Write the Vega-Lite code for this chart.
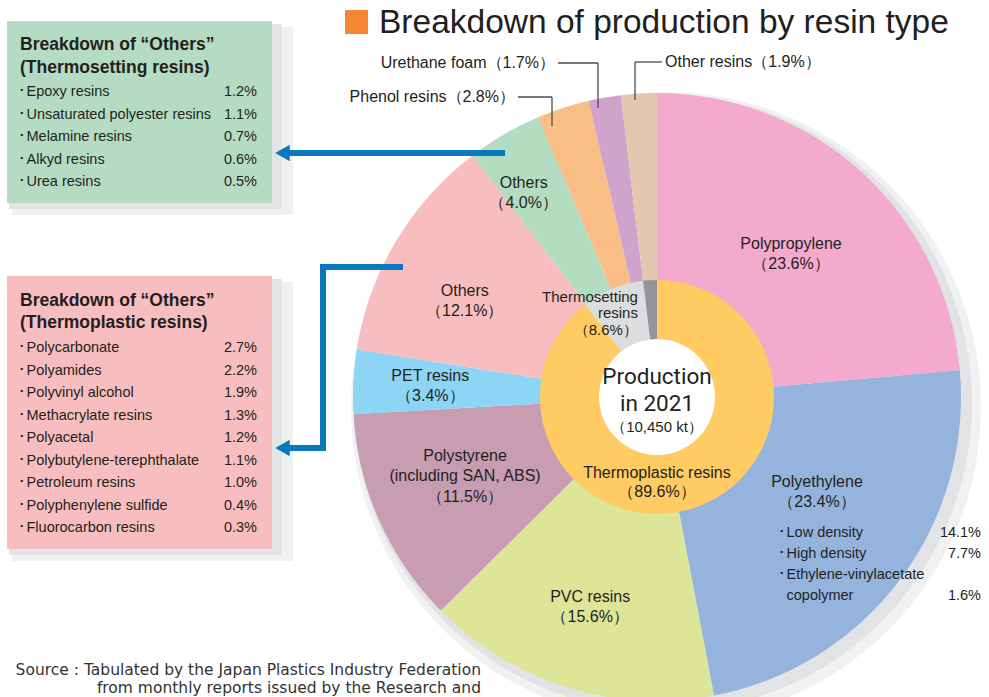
{
  "$schema": "https://vega.github.io/schema/vega-lite/v6.json",
  "width": 989,
  "height": 697,
  "autosize": {"type": "none"},
  "padding": 0,
  "background": "#ffffff",
  "config": {
    "view": {"stroke": null},
    "axis": {"disable": true},
    "legend": {"disable": true},
    "text": {"font": "Liberation Sans, Arial, sans-serif", "fontSize": 16, "color": "#231f20", "lineHeight": 20}
  },
  "datasets": {
    "outer": [
      {"id": "Polypropylene", "pct": 23.6, "ord": 1, "label": ["Polypropylene", "（23.6%）"]},
      {"id": "Polyethylene", "pct": 23.4, "ord": 2, "label": ["Polyethylene", "（23.4%）"]},
      {"id": "PVC resins", "pct": 15.6, "ord": 3, "label": ["PVC resins", "（15.6%）"]},
      {"id": "Polystyrene", "pct": 11.5, "ord": 4, "label": ["Polystyrene", "(including SAN, ABS)", "（11.5%）"]},
      {"id": "PET resins", "pct": 3.4, "ord": 5, "label": ["PET resins", "（3.4%）"]},
      {"id": "Others (thermoplastic)", "pct": 12.1, "ord": 6, "label": ["Others", "（12.1%）"]},
      {"id": "Others (thermosetting)", "pct": 4.0, "ord": 7, "label": ["Others", "（4.0%）"]},
      {"id": "Phenol resins", "pct": 2.8, "ord": 8, "label": ["Phenol resins（2.8%）"]},
      {"id": "Urethane foam", "pct": 1.7, "ord": 9, "label": ["Urethane foam（1.7%）"]},
      {"id": "Other resins", "pct": 1.9, "ord": 10, "label": ["Other resins（1.9%）"]}
    ],
    "inner": [
      {"id": "Thermoplastic resins", "pct": 89.6, "ord": 1, "label": ["Thermoplastic resins", "（89.6%）"]},
      {"id": "Thermosetting resins", "pct": 8.6, "ord": 2, "label": ["Thermosetting", "resins", "（8.6%）"]},
      {"id": "Other resins", "pct": 1.9, "ord": 3, "label": [""]}
    ],
    "thermosetting_others": [
      {"name": "Epoxy resins", "share": 0.012},
      {"name": "Unsaturated polyester resins", "share": 0.011},
      {"name": "Melamine resins", "share": 0.007},
      {"name": "Alkyd resins", "share": 0.006},
      {"name": "Urea resins", "share": 0.005}
    ],
    "thermoplastic_others": [
      {"name": "Polycarbonate", "share": 0.027},
      {"name": "Polyamides", "share": 0.022},
      {"name": "Polyvinyl alcohol", "share": 0.019},
      {"name": "Methacrylate resins", "share": 0.013},
      {"name": "Polyacetal", "share": 0.012},
      {"name": "Polybutylene-terephthalate", "share": 0.011},
      {"name": "Petroleum resins", "share": 0.010},
      {"name": "Polyphenylene sulfide", "share": 0.004},
      {"name": "Fluorocarbon resins", "share": 0.003}
    ],
    "polyethylene": [
      {"line": "Low density", "share": 0.141},
      {"line": "High density", "share": 0.077},
      {"line": "Ethylene-vinylacetate", "share": null},
      {"line": "copolymer", "share": 0.016}
    ]
  },
  "data": {"values": [{}]},
  "layer": [
    {
      "resolve": {"scale": {"theta": "independent", "color": "independent"}},
      "layer": [
        {"mark": {"type": "rect", "color": "#f0f0f1"}, "encoding": {"x": {"datum": 12, "type": "quantitative", "scale": {"domain": [0, 989], "nice": false, "zero": false}}, "x2": {"datum": 293}, "y": {"datum": 27, "type": "quantitative", "scale": {"domain": [0, 697], "nice": false, "zero": false, "reverse": true}}, "y2": {"datum": 215}}},
        {"mark": {"type": "rect", "color": "#e3e4e5"}, "encoding": {"x": {"datum": 9, "type": "quantitative", "scale": {"domain": [0, 989], "nice": false, "zero": false}}, "x2": {"datum": 282}, "y": {"datum": 24, "type": "quantitative", "scale": {"domain": [0, 697], "nice": false, "zero": false, "reverse": true}}, "y2": {"datum": 209}}},
        {"mark": {"type": "rect", "color": "#b5dcc2"}, "encoding": {"x": {"datum": 7, "type": "quantitative", "scale": {"domain": [0, 989], "nice": false, "zero": false}}, "x2": {"datum": 272}, "y": {"datum": 21, "type": "quantitative", "scale": {"domain": [0, 697], "nice": false, "zero": false, "reverse": true}}, "y2": {"datum": 203}}},
        {"mark": {"type": "rect", "color": "#f0f0f1"}, "encoding": {"x": {"datum": 12, "type": "quantitative", "scale": {"domain": [0, 989], "nice": false, "zero": false}}, "x2": {"datum": 293}, "y": {"datum": 282, "type": "quantitative", "scale": {"domain": [0, 697], "nice": false, "zero": false, "reverse": true}}, "y2": {"datum": 561}}},
        {"mark": {"type": "rect", "color": "#e3e4e5"}, "encoding": {"x": {"datum": 9, "type": "quantitative", "scale": {"domain": [0, 989], "nice": false, "zero": false}}, "x2": {"datum": 282}, "y": {"datum": 279, "type": "quantitative", "scale": {"domain": [0, 697], "nice": false, "zero": false, "reverse": true}}, "y2": {"datum": 555}}},
        {"mark": {"type": "rect", "color": "#f8bdbe"}, "encoding": {"x": {"datum": 7, "type": "quantitative", "scale": {"domain": [0, 989], "nice": false, "zero": false}}, "x2": {"datum": 272}, "y": {"datum": 276, "type": "quantitative", "scale": {"domain": [0, 697], "nice": false, "zero": false, "reverse": true}}, "y2": {"datum": 549}}},
        {"mark": {"type": "arc", "outerRadius": 315, "innerRadius": 240, "theta": 0, "theta2": 6.2832, "color": "#f1f1f2"}, "encoding": {"x": {"datum": 666, "type": "quantitative", "scale": {"domain": [0, 989], "nice": false, "zero": false}}, "y": {"datum": 407, "type": "quantitative", "scale": {"domain": [0, 697], "nice": false, "zero": false, "reverse": true}}}},
        {"mark": {"type": "arc", "outerRadius": 309, "innerRadius": 240, "theta": 0, "theta2": 6.2832, "color": "#e2e3e4"}, "encoding": {"x": {"datum": 663, "type": "quantitative", "scale": {"domain": [0, 989], "nice": false, "zero": false}}, "y": {"datum": 403, "type": "quantitative", "scale": {"domain": [0, 697], "nice": false, "zero": false, "reverse": true}}}},
        {
          "data": {"name": "outer"},
          "mark": {"type": "arc", "outerRadius": 304, "innerRadius": 110},
          "encoding": {
            "x": {"datum": 657, "type": "quantitative", "scale": {"domain": [0, 989], "nice": false, "zero": false}},
            "y": {"datum": 397, "type": "quantitative", "scale": {"domain": [0, 697], "nice": false, "zero": false, "reverse": true}},
            "theta": {"field": "pct", "type": "quantitative", "stack": true},
            "order": {"field": "ord", "type": "quantitative"},
            "color": {"field": "id", "type": "nominal", "scale": {
              "domain": ["Polypropylene", "Polyethylene", "PVC resins", "Polystyrene", "PET resins", "Others (thermoplastic)", "Others (thermosetting)", "Phenol resins", "Urethane foam", "Other resins"],
              "range": ["#f3aacd", "#94b4de", "#dde599", "#c89db2", "#8dd5f5", "#f8bdbf", "#b4dcc1", "#f9bd86", "#cfa3cc", "#e3c7ae"]}}
          }
        },
        {
          "data": {"name": "inner"},
          "mark": {"type": "arc", "outerRadius": 117, "innerRadius": 58},
          "encoding": {
            "x": {"datum": 657, "type": "quantitative", "scale": {"domain": [0, 989], "nice": false, "zero": false}},
            "y": {"datum": 397, "type": "quantitative", "scale": {"domain": [0, 697], "nice": false, "zero": false, "reverse": true}},
            "theta": {"field": "pct", "type": "quantitative", "stack": true},
            "order": {"field": "ord", "type": "quantitative"},
            "color": {"field": "id", "type": "nominal", "scale": {
              "domain": ["Thermoplastic resins", "Thermosetting resins", "Other resins"],
              "range": ["#ffcb62", "#dcdddf", "#939598"]}}
          }
        },
        {"mark": {"type": "rect", "color": "#f58634"}, "encoding": {"x": {"datum": 345, "type": "quantitative", "scale": {"domain": [0, 989], "nice": false, "zero": false}}, "x2": {"datum": 368}, "y": {"datum": 10, "type": "quantitative", "scale": {"domain": [0, 697], "nice": false, "zero": false, "reverse": true}}, "y2": {"datum": 34}}},
        {"mark": {"type": "text", "fontSize": 33.5, "align": "left", "baseline": "middle", "color": "#231f20"}, "encoding": {"x": {"datum": 379, "type": "quantitative", "scale": {"domain": [0, 989], "nice": false, "zero": false}}, "y": {"datum": 23, "type": "quantitative", "scale": {"domain": [0, 697], "nice": false, "zero": false, "reverse": true}}, "text": {"value": "Breakdown of production by resin type"}}},
        {"mark": {"type": "rule", "color": "#4d4d4d", "strokeWidth": 1.3}, "encoding": {"x": {"datum": 558, "type": "quantitative", "scale": {"domain": [0, 989], "nice": false, "zero": false}}, "x2": {"datum": 598}, "y": {"datum": 63, "type": "quantitative", "scale": {"domain": [0, 697], "nice": false, "zero": false, "reverse": true}}}},
        {"mark": {"type": "rule", "color": "#4d4d4d", "strokeWidth": 1.3}, "encoding": {"x": {"datum": 598, "type": "quantitative", "scale": {"domain": [0, 989], "nice": false, "zero": false}}, "y": {"datum": 63, "type": "quantitative", "scale": {"domain": [0, 697], "nice": false, "zero": false, "reverse": true}}, "y2": {"datum": 108}}},
        {"mark": {"type": "rule", "color": "#4d4d4d", "strokeWidth": 1.3}, "encoding": {"x": {"datum": 635, "type": "quantitative", "scale": {"domain": [0, 989], "nice": false, "zero": false}}, "x2": {"datum": 662}, "y": {"datum": 62, "type": "quantitative", "scale": {"domain": [0, 697], "nice": false, "zero": false, "reverse": true}}}},
        {"mark": {"type": "rule", "color": "#4d4d4d", "strokeWidth": 1.3}, "encoding": {"x": {"datum": 635, "type": "quantitative", "scale": {"domain": [0, 989], "nice": false, "zero": false}}, "y": {"datum": 62, "type": "quantitative", "scale": {"domain": [0, 697], "nice": false, "zero": false, "reverse": true}}, "y2": {"datum": 100}}},
        {"mark": {"type": "rule", "color": "#4d4d4d", "strokeWidth": 1.3}, "encoding": {"x": {"datum": 518, "type": "quantitative", "scale": {"domain": [0, 989], "nice": false, "zero": false}}, "x2": {"datum": 552}, "y": {"datum": 97, "type": "quantitative", "scale": {"domain": [0, 697], "nice": false, "zero": false, "reverse": true}}}},
        {"mark": {"type": "rule", "color": "#4d4d4d", "strokeWidth": 1.3}, "encoding": {"x": {"datum": 552, "type": "quantitative", "scale": {"domain": [0, 989], "nice": false, "zero": false}}, "y": {"datum": 97, "type": "quantitative", "scale": {"domain": [0, 697], "nice": false, "zero": false, "reverse": true}}, "y2": {"datum": 126}}},
        {"data": {"name": "outer"}, "transform": [{"filter": "datum.id === 'Urethane foam'"}], "mark": {"type": "text", "align": "right", "baseline": "middle"}, "encoding": {"x": {"datum": 555, "type": "quantitative", "scale": {"domain": [0, 989], "nice": false, "zero": false}}, "y": {"datum": 63, "type": "quantitative", "scale": {"domain": [0, 697], "nice": false, "zero": false, "reverse": true}}, "text": {"field": "label", "type": "nominal"}}},
        {"data": {"name": "outer"}, "transform": [{"filter": "datum.id === 'Other resins'"}], "mark": {"type": "text", "align": "left", "baseline": "middle"}, "encoding": {"x": {"datum": 665, "type": "quantitative", "scale": {"domain": [0, 989], "nice": false, "zero": false}}, "y": {"datum": 62, "type": "quantitative", "scale": {"domain": [0, 697], "nice": false, "zero": false, "reverse": true}}, "text": {"field": "label", "type": "nominal"}}},
        {"data": {"name": "outer"}, "transform": [{"filter": "datum.id === 'Phenol resins'"}], "mark": {"type": "text", "align": "right", "baseline": "middle"}, "encoding": {"x": {"datum": 515, "type": "quantitative", "scale": {"domain": [0, 989], "nice": false, "zero": false}}, "y": {"datum": 97, "type": "quantitative", "scale": {"domain": [0, 697], "nice": false, "zero": false, "reverse": true}}, "text": {"field": "label", "type": "nominal"}}},
        {"mark": {"type": "rule", "color": "#0a78be", "strokeWidth": 6, "strokeCap": "square"}, "encoding": {"x": {"datum": 289, "type": "quantitative", "scale": {"domain": [0, 989], "nice": false, "zero": false}}, "x2": {"datum": 502}, "y": {"datum": 153, "type": "quantitative", "scale": {"domain": [0, 697], "nice": false, "zero": false, "reverse": true}}}},
        {"mark": {"type": "rule", "color": "#0a78be", "strokeWidth": 6, "strokeCap": "square"}, "encoding": {"x": {"datum": 323, "type": "quantitative", "scale": {"domain": [0, 989], "nice": false, "zero": false}}, "x2": {"datum": 400}, "y": {"datum": 267, "type": "quantitative", "scale": {"domain": [0, 697], "nice": false, "zero": false, "reverse": true}}}},
        {"mark": {"type": "rule", "color": "#0a78be", "strokeWidth": 6, "strokeCap": "square"}, "encoding": {"x": {"datum": 323, "type": "quantitative", "scale": {"domain": [0, 989], "nice": false, "zero": false}}, "y": {"datum": 267, "type": "quantitative", "scale": {"domain": [0, 697], "nice": false, "zero": false, "reverse": true}}, "y2": {"datum": 448}}},
        {"mark": {"type": "rule", "color": "#0a78be", "strokeWidth": 6, "strokeCap": "square"}, "encoding": {"x": {"datum": 289, "type": "quantitative", "scale": {"domain": [0, 989], "nice": false, "zero": false}}, "x2": {"datum": 323}, "y": {"datum": 448, "type": "quantitative", "scale": {"domain": [0, 697], "nice": false, "zero": false, "reverse": true}}}},
        {"mark": {"type": "point", "shape": "triangle-left", "size": 280, "filled": true, "opacity": 1, "color": "#0a78be"}, "encoding": {"x": {"datum": 282.5, "type": "quantitative", "scale": {"domain": [0, 989], "nice": false, "zero": false}}, "y": {"datum": 153, "type": "quantitative", "scale": {"domain": [0, 697], "nice": false, "zero": false, "reverse": true}}}},
        {"mark": {"type": "point", "shape": "triangle-left", "size": 280, "filled": true, "opacity": 1, "color": "#0a78be"}, "encoding": {"x": {"datum": 282.5, "type": "quantitative", "scale": {"domain": [0, 989], "nice": false, "zero": false}}, "y": {"datum": 448, "type": "quantitative", "scale": {"domain": [0, 697], "nice": false, "zero": false, "reverse": true}}}},
        {"data": {"name": "outer"}, "mark": {"type": "text", "radius": 196, "thetaOffset": 0.0115, "dy": -10, "align": "center", "baseline": "middle"}, "encoding": {"x": {"datum": 657, "type": "quantitative", "scale": {"domain": [0, 989], "nice": false, "zero": false}}, "y": {"datum": 397, "type": "quantitative", "scale": {"domain": [0, 697], "nice": false, "zero": false, "reverse": true}}, "theta": {"field": "pct", "type": "quantitative", "stack": true}, "order": {"field": "ord", "type": "quantitative"}, "text": {"condition": {"test": "datum.id === 'Polypropylene'", "field": "label", "type": "nominal"}, "value": ""}}},
        {"data": {"name": "outer"}, "mark": {"type": "text", "radius": 186, "thetaOffset": -0.112, "dy": -10, "align": "center", "baseline": "middle"}, "encoding": {"x": {"datum": 657, "type": "quantitative", "scale": {"domain": [0, 989], "nice": false, "zero": false}}, "y": {"datum": 397, "type": "quantitative", "scale": {"domain": [0, 697], "nice": false, "zero": false, "reverse": true}}, "theta": {"field": "pct", "type": "quantitative", "stack": true}, "order": {"field": "ord", "type": "quantitative"}, "text": {"condition": {"test": "datum.id === 'Polyethylene'", "field": "label", "type": "nominal"}, "value": ""}}},
        {"data": {"name": "outer"}, "mark": {"type": "text", "radius": 220, "thetaOffset": 0.007, "dy": -10, "align": "center", "baseline": "middle"}, "encoding": {"x": {"datum": 657, "type": "quantitative", "scale": {"domain": [0, 989], "nice": false, "zero": false}}, "y": {"datum": 397, "type": "quantitative", "scale": {"domain": [0, 697], "nice": false, "zero": false, "reverse": true}}, "theta": {"field": "pct", "type": "quantitative", "stack": true}, "order": {"field": "ord", "type": "quantitative"}, "text": {"condition": {"test": "datum.id === 'PVC resins'", "field": "label", "type": "nominal"}, "value": ""}}},
        {"data": {"name": "outer"}, "mark": {"type": "text", "radius": 207.6, "thetaOffset": 0.027, "dy": -20.5, "lineHeight": 20.5, "align": "center", "baseline": "middle"}, "encoding": {"x": {"datum": 657, "type": "quantitative", "scale": {"domain": [0, 989], "nice": false, "zero": false}}, "y": {"datum": 397, "type": "quantitative", "scale": {"domain": [0, 697], "nice": false, "zero": false, "reverse": true}}, "theta": {"field": "pct", "type": "quantitative", "stack": true}, "order": {"field": "ord", "type": "quantitative"}, "text": {"condition": {"test": "datum.id === 'Polystyrene'", "field": "label", "type": "nominal"}, "value": ""}}},
        {"data": {"name": "outer"}, "mark": {"type": "text", "radius": 227, "dy": -10, "align": "center", "baseline": "middle"}, "encoding": {"x": {"datum": 657, "type": "quantitative", "scale": {"domain": [0, 989], "nice": false, "zero": false}}, "y": {"datum": 397, "type": "quantitative", "scale": {"domain": [0, 697], "nice": false, "zero": false, "reverse": true}}, "theta": {"field": "pct", "type": "quantitative", "stack": true}, "order": {"field": "ord", "type": "quantitative"}, "text": {"condition": {"test": "datum.id === 'PET resins'", "field": "label", "type": "nominal"}, "value": ""}}},
        {"data": {"name": "outer"}, "mark": {"type": "text", "radius": 215, "thetaOffset": -0.073, "dy": -10, "align": "center", "baseline": "middle"}, "encoding": {"x": {"datum": 657, "type": "quantitative", "scale": {"domain": [0, 989], "nice": false, "zero": false}}, "y": {"datum": 397, "type": "quantitative", "scale": {"domain": [0, 697], "nice": false, "zero": false, "reverse": true}}, "theta": {"field": "pct", "type": "quantitative", "stack": true}, "order": {"field": "ord", "type": "quantitative"}, "text": {"condition": {"test": "datum.id === 'Others (thermoplastic)'", "field": "label", "type": "nominal"}, "value": ""}}},
        {"data": {"name": "outer"}, "mark": {"type": "text", "radius": 244, "thetaOffset": -0.05, "dy": -10, "align": "center", "baseline": "middle"}, "encoding": {"x": {"datum": 657, "type": "quantitative", "scale": {"domain": [0, 989], "nice": false, "zero": false}}, "y": {"datum": 397, "type": "quantitative", "scale": {"domain": [0, 697], "nice": false, "zero": false, "reverse": true}}, "theta": {"field": "pct", "type": "quantitative", "stack": true}, "order": {"field": "ord", "type": "quantitative"}, "text": {"condition": {"test": "datum.id === 'Others (thermosetting)'", "field": "label", "type": "nominal"}, "value": ""}}},
        {"data": {"name": "inner"}, "mark": {"type": "text", "radius": 85, "thetaOffset": 0.33, "dy": -9.5, "align": "center", "baseline": "middle", "lineHeight": 19}, "encoding": {"x": {"datum": 657, "type": "quantitative", "scale": {"domain": [0, 989], "nice": false, "zero": false}}, "y": {"datum": 397, "type": "quantitative", "scale": {"domain": [0, 697], "nice": false, "zero": false, "reverse": true}}, "theta": {"field": "pct", "type": "quantitative", "stack": true}, "order": {"field": "ord", "type": "quantitative"}, "text": {"condition": {"test": "datum.id === 'Thermoplastic resins'", "field": "label", "type": "nominal"}, "value": ""}}},
        {"data": {"name": "inner"}, "mark": {"type": "text", "radius": 86, "thetaOffset": 0.166, "dy": -16.5, "align": "right", "baseline": "middle", "fontSize": 15, "lineHeight": 16.5}, "encoding": {"x": {"datum": 657, "type": "quantitative", "scale": {"domain": [0, 989], "nice": false, "zero": false}}, "y": {"datum": 397, "type": "quantitative", "scale": {"domain": [0, 697], "nice": false, "zero": false, "reverse": true}}, "theta": {"field": "pct", "type": "quantitative", "stack": true}, "order": {"field": "ord", "type": "quantitative"}, "text": {"condition": {"test": "datum.id === 'Thermosetting resins'", "field": "label", "type": "nominal"}, "value": ""}}},
        {"mark": {"type": "text", "font": "Roboto, Liberation Sans, sans-serif", "fontSize": 22.5, "lineHeight": 27, "align": "center", "baseline": "middle"}, "encoding": {"x": {"datum": 657, "type": "quantitative", "scale": {"domain": [0, 989], "nice": false, "zero": false}}, "y": {"datum": 377, "type": "quantitative", "scale": {"domain": [0, 697], "nice": false, "zero": false, "reverse": true}}, "text": {"value": ["Production", "in 2021"]}}},
        {"mark": {"type": "text", "fontSize": 15, "align": "center", "baseline": "middle"}, "encoding": {"x": {"datum": 657, "type": "quantitative", "scale": {"domain": [0, 989], "nice": false, "zero": false}}, "y": {"datum": 427, "type": "quantitative", "scale": {"domain": [0, 697], "nice": false, "zero": false, "reverse": true}}, "text": {"value": "（10,450 kt）"}}},
        {"mark": {"type": "text", "fontSize": 17.5, "fontWeight": "bold", "align": "left", "baseline": "middle", "lineHeight": 23}, "encoding": {"x": {"datum": 20, "type": "quantitative", "scale": {"domain": [0, 989], "nice": false, "zero": false}}, "y": {"datum": 45, "type": "quantitative", "scale": {"domain": [0, 697], "nice": false, "zero": false, "reverse": true}}, "text": {"value": ["Breakdown of  “Others”", "(Thermosetting resins)"]}}},
        {"mark": {"type": "text", "fontSize": 17.5, "fontWeight": "bold", "align": "left", "baseline": "middle", "lineHeight": 22}, "encoding": {"x": {"datum": 20, "type": "quantitative", "scale": {"domain": [0, 989], "nice": false, "zero": false}}, "y": {"datum": 301, "type": "quantitative", "scale": {"domain": [0, 697], "nice": false, "zero": false, "reverse": true}}, "text": {"value": ["Breakdown of  “Others”", "(Thermoplastic resins)"]}}},
        {"mark": {"type": "text", "font": "DejaVu Sans, Liberation Sans, sans-serif", "fontSize": 15.5, "align": "right", "baseline": "middle", "lineHeight": 18, "color": "#333333"}, "encoding": {"x": {"datum": 481, "type": "quantitative", "scale": {"domain": [0, 989], "nice": false, "zero": false}}, "y": {"datum": 670, "type": "quantitative", "scale": {"domain": [0, 697], "nice": false, "zero": false, "reverse": true}}, "text": {"value": ["Source : Tabulated by the Japan Plastics Industry Federation", "from monthly reports issued by the Research and"]}}}
      ]
    },
    {
      "data": {"name": "thermosetting_others"},
      "encoding": {"y": {"field": "name", "type": "nominal", "sort": null, "scale": {"type": "point", "range": [92, 182], "padding": 0}}},
      "layer": [
        {"mark": {"type": "text", "fontSize": 14.5, "align": "left", "baseline": "middle"}, "encoding": {"x": {"datum": 18, "type": "quantitative", "scale": {"domain": [0, 989], "nice": false, "zero": false}}, "text": {"value": "･"}}},
        {"mark": {"type": "text", "fontSize": 14.5, "align": "left", "baseline": "middle"}, "encoding": {"x": {"datum": 26.5, "type": "quantitative", "scale": {"domain": [0, 989], "nice": false, "zero": false}}, "text": {"field": "name", "type": "nominal"}}},
        {"mark": {"type": "text", "fontSize": 14.5, "align": "right", "baseline": "middle"}, "encoding": {"x": {"datum": 257, "type": "quantitative", "scale": {"domain": [0, 989], "nice": false, "zero": false}}, "text": {"field": "share", "type": "quantitative", "format": ".1%"}}}
      ]
    },
    {
      "data": {"name": "thermoplastic_others"},
      "encoding": {"y": {"field": "name", "type": "nominal", "sort": null, "scale": {"type": "point", "range": [348, 528], "padding": 0}}},
      "layer": [
        {"mark": {"type": "text", "fontSize": 14.5, "align": "left", "baseline": "middle"}, "encoding": {"x": {"datum": 18, "type": "quantitative", "scale": {"domain": [0, 989], "nice": false, "zero": false}}, "text": {"value": "･"}}},
        {"mark": {"type": "text", "fontSize": 14.5, "align": "left", "baseline": "middle"}, "encoding": {"x": {"datum": 26.5, "type": "quantitative", "scale": {"domain": [0, 989], "nice": false, "zero": false}}, "text": {"field": "name", "type": "nominal"}}},
        {"mark": {"type": "text", "fontSize": 14.5, "align": "right", "baseline": "middle"}, "encoding": {"x": {"datum": 257, "type": "quantitative", "scale": {"domain": [0, 989], "nice": false, "zero": false}}, "text": {"field": "share", "type": "quantitative", "format": ".1%"}}}
      ]
    },
    {
      "data": {"name": "polyethylene"},
      "encoding": {"y": {"field": "line", "type": "nominal", "sort": null, "scale": {"type": "point", "range": [533, 596], "padding": 0}}},
      "layer": [
        {"mark": {"type": "text", "fontSize": 14.5, "align": "left", "baseline": "middle"}, "encoding": {"x": {"datum": 778, "type": "quantitative", "scale": {"domain": [0, 989], "nice": false, "zero": false}}, "text": {"condition": {"test": "datum.line === 'copolymer'", "value": ""}, "value": "･"}}},
        {"mark": {"type": "text", "fontSize": 14.5, "align": "left", "baseline": "middle"}, "encoding": {"x": {"datum": 786.5, "type": "quantitative", "scale": {"domain": [0, 989], "nice": false, "zero": false}}, "text": {"field": "line", "type": "nominal"}}},
        {"mark": {"type": "text", "fontSize": 14.5, "align": "right", "baseline": "middle"}, "encoding": {"x": {"datum": 981, "type": "quantitative", "scale": {"domain": [0, 989], "nice": false, "zero": false}}, "text": {"condition": {"test": "datum.share == null", "value": ""}, "field": "share", "type": "quantitative", "format": ".1%"}}}
      ]
    }
  ],
  "resolve": {"scale": {"y": "independent"}}
}
